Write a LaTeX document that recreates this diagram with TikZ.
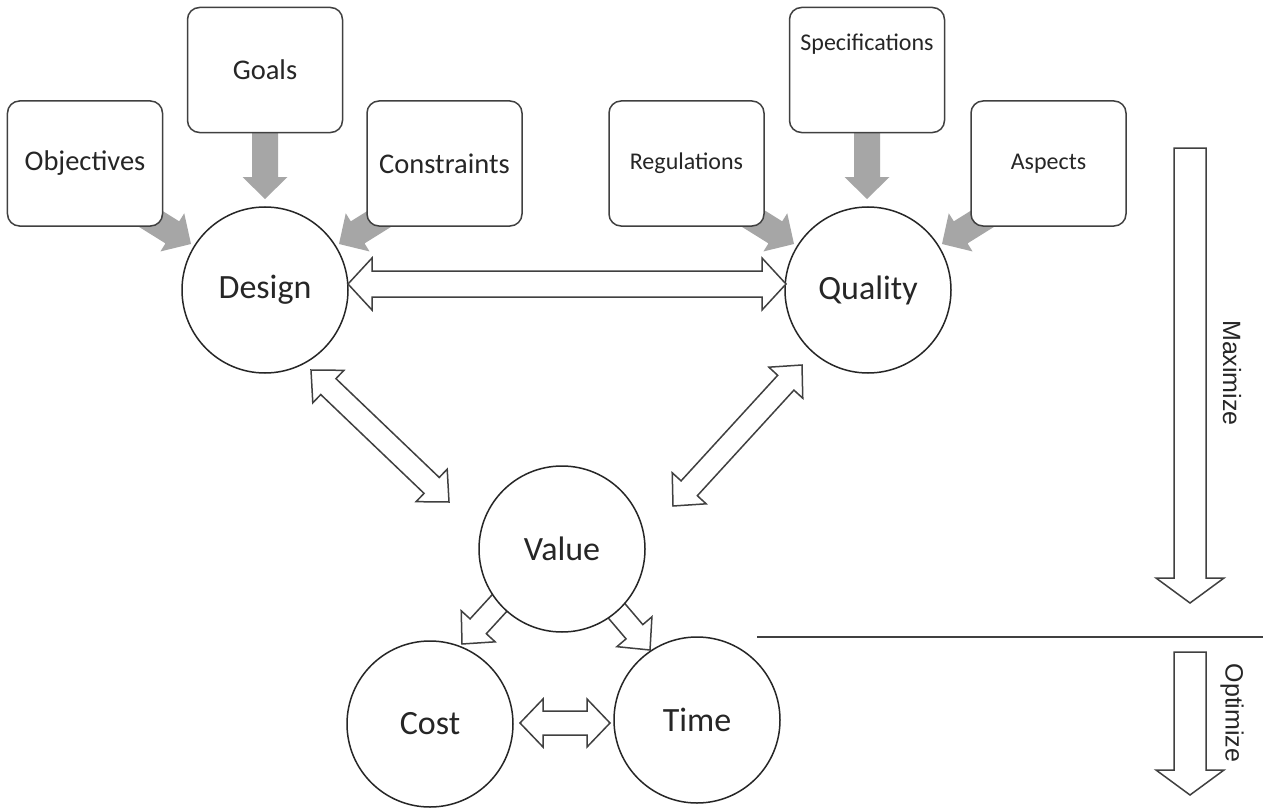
\documentclass[tikz,border=0pt]{standalone}
\usepackage{fontspec}
\setmainfont{Carlito}
\newfontfamily\sidefont{Liberation Sans}
\usetikzlibrary{calc}
\definecolor{linec}{HTML}{404040}
\definecolor{arrgray}{HTML}{A6A6A6}
\definecolor{txtc}{HTML}{262626}
% double outline arrow: [style]{tipA}{tipB}{half shaft}{half head}{head length}
\newcommand\dblarr[6][]{%
  \path ($(#2)!#6!(#3)$) coordinate (h1) ($(#3)!#6!(#2)$) coordinate (h2);
  \draw[#1] (#2) -- ($(h1)!#5!90:(#3)$) -- ($(h1)!#4!90:(#3)$) -- ($(h2)!#4!-90:(#2)$)
    -- ($(h2)!#5!-90:(#2)$) -- (#3) -- ($(h2)!#5!90:(#2)$) -- ($(h2)!#4!90:(#2)$)
    -- ($(h1)!#4!-90:(#3)$) -- ($(h1)!#5!-90:(#3)$) -- cycle;}
% single arrow: [style]{tail}{tip}{half shaft}{half head}{head length}
\newcommand\sglarr[6][]{%
  \path ($(#3)!#6!(#2)$) coordinate (hb);
  \draw[#1] (#3) -- ($(hb)!#5!90:(#3)$) -- ($(hb)!#4!90:(#3)$) -- ($(#2)!#4!90:(#3)$)
    -- ($(#2)!#4!-90:(#3)$) -- ($(hb)!#4!-90:(#3)$) -- ($(hb)!#5!-90:(#3)$) -- cycle;}
\begin{document}
\begin{tikzpicture}[x=1bp,y=-1bp,
  box/.style={draw=linec, line width=1.5bp, rounded corners=12bp, fill=white,
    minimum width=155bp, minimum height=125bp, inner sep=0pt, text=txtc,
    font=\fontsize{28.5bp}{34bp}\selectfont},
  sbox/.style={box, font=\fontsize{24bp}{29bp}\selectfont},
  circ/.style={circle, draw=black!85, line width=1.5bp, fill=white,
    minimum size=166bp, inner sep=0pt, text=txtc,
    font=\fontsize{34bp}{40bp}\selectfont},
  grayarr/.style={fill=arrgray, draw=none},
  outarr/.style={draw=linec, line width=1.5bp, fill=white, line join=miter},
  sidelabel/.style={rotate=-90, text=txtc, font=\sidefont\fontsize{25bp}{30bp}\selectfont}]
\useasboundingbox (0,0) rectangle (1263,809);
\fill[white] (0,0) rectangle (1263,809);

% gray arrow end points
\coordinate (oA) at (106,191); \coordinate (oT) at (191,244);
\coordinate (gA) at (265,100); \coordinate (gT) at (265,199);
\coordinate (cA) at (424,191); \coordinate (cT) at (339,244);
\coordinate (rA) at (709,191); \coordinate (rT) at (794,244);
\coordinate (sA) at (867,100); \coordinate (sT) at (867,199);
\coordinate (aA) at (1027,191); \coordinate (aT) at (942,244);
\sglarr[grayarr]{oA}{oT}{13bp}{22.5bp}{22bp}
\sglarr[grayarr]{gA}{gT}{13bp}{22.5bp}{22bp}
\sglarr[grayarr]{cA}{cT}{13bp}{22.5bp}{22bp}
\sglarr[grayarr]{rA}{rT}{13bp}{22.5bp}{22bp}
\sglarr[grayarr]{sA}{sT}{13bp}{22.5bp}{22bp}
\sglarr[grayarr]{aA}{aT}{13bp}{22.5bp}{22bp}

% boxes
\node[box] (objectives) at (85,163.5) {Objectives};
\node[box] (goals) at (265,70) {Goals};
\node[box] (constraints) at (444.5,163.5) {Constraints};
\node[sbox] (regulations) at (686.5,163.5) {Regulations};
\node[sbox, text height=17bp, text depth=55bp] (specs) at (867,70) {Specifications};
\node[sbox] (aspects) at (1048.5,163.5) {Aspects};

% Value -> Cost / Time arrows (tails hidden under Value)
\coordinate (vcA) at (516,585); \coordinate (vcT) at (462,644);
\coordinate (vtA) at (598,589); \coordinate (vtT) at (650,650);
\sglarr[outarr]{vcA}{vcT}{11bp}{23bp}{24bp}
\sglarr[outarr]{vtA}{vtT}{11bp}{23bp}{24bp}

% circles
\node[circ] (design) at (265,290) {Design};
\node[circ] (quality) at (868,290) {Quality};
\node[circ] (value) at (562,549) {Value};
\node[circ] (cost) at (430,724) {Cost};
\node[circ] (time) at (697,720) {Time};

% double arrows
\coordinate (dq1) at (348,284); \coordinate (dq2) at (786,284);
\dblarr[outarr]{dq1}{dq2}{13bp}{26bp}{24bp}
\coordinate (dv1) at (311,370); \coordinate (dv2) at (449,502);
\dblarr[outarr]{dv1}{dv2}{11bp}{22.5bp}{24bp}
\coordinate (qv1) at (802,365); \coordinate (qv2) at (673,506);
\dblarr[outarr]{qv1}{qv2}{11bp}{23bp}{24bp}
\coordinate (ct1) at (520,723); \coordinate (ct2) at (610,723);
\dblarr[outarr]{ct1}{ct2}{12bp}{24bp}{23bp}

% right side
\coordinate (mxA) at (1190,148); \coordinate (mxT) at (1190,603);
\sglarr[outarr]{mxA}{mxT}{16bp}{34bp}{25bp}
\coordinate (opA) at (1190,652); \coordinate (opT) at (1190,795);
\sglarr[outarr]{opA}{opT}{16bp}{34bp}{25bp}
\coordinate (sepL) at (757,637); \coordinate (sepR) at (1263,637);
\draw[draw=linec, line width=1.5bp] (sepL) -- (sepR);
\node[sidelabel] (maximize) at (1232,373) {Maximize};
\node[sidelabel] (optimize) at (1232,713) {Optimize};
\end{tikzpicture}
\end{document}
